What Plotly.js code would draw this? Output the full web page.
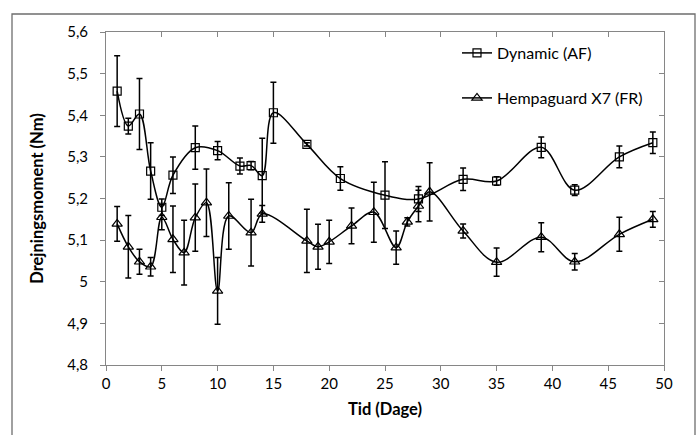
<!DOCTYPE html>
<html>
<head>
<meta charset="utf-8">
<script src="https://cdn.plot.ly/plotly-3.0.1.min.js"></script>
<style>
html,body{margin:0;padding:0;background:#fff;}
#chart{width:697px;height:435px;}
</style>
</head>
<body>
<div id="chart"></div>
<script>
// Dynamic (AF)
const dynX = [1,2,3,4,5,6,8,10,12,13,14,15,18,21,25,28,32,35,39,42,46,49];
const dynY = [5.458,5.374,5.403,5.266,5.179,5.256,5.322,5.315,5.278,5.279,5.255,5.406,5.330,5.248,5.208,5.199,5.246,5.242,5.323,5.220,5.300,5.334];
const dynErr = [0.085,0.019,0.085,0.068,0.02,0.044,0.052,0.022,0.019,0.01,0.09,0.073,0.004,0.028,0.08,0.03,0.027,0.01,0.025,0.013,0.026,0.026];

// Hempaguard X7 (FR)
const hemX = [1,2,3,4,5,6,7,8,9,10,11,13,14,18,19,20,22,24,26,27,28,29,32,35,39,42,46,49];
const hemY = [5.139,5.084,5.048,5.036,5.155,5.102,5.070,5.154,5.190,4.978,5.158,5.118,5.163,5.098,5.084,5.096,5.134,5.167,5.082,5.144,5.182,5.216,5.122,5.047,5.107,5.048,5.114,5.150];
const hemErr = [0.042,0.075,0.03,0.022,0.03,0.08,0.078,0.081,0.081,0.08,0.08,0.08,0.02,0.076,0.054,0.052,0.043,0.072,0.04,0.01,0.038,0.07,0.017,0.034,0.035,0.02,0.041,0.019];

const seriesNames = ['Dynamic (AF)', 'Hempaguard X7 (FR)'];
const xTitle = 'Tid (Dage)';
const yTitle = 'Drejningsmoment (Nm)';

const FONT = 'Lato, "Open Sans", sans-serif';
const AX = '#868686';

function errBars(arr){
  return {type:'data', array:arr, visible:true, color:'#000', thickness:1.5, width:3};
}

const traces = [
  {
    x: dynX, y: dynY, name: seriesNames[0], type:'scatter', mode:'lines+markers',
    line:{color:'#000', width:1.5, shape:'spline', smoothing:1},
    marker:{symbol:'square-open', size:8, color:'#000', line:{width:1.2, color:'#000'}},
    error_y: errBars(dynErr), legend:'legend'
  },
  {
    x: hemX, y: hemY, name: seriesNames[1], type:'scatter', mode:'lines+markers',
    line:{color:'#000', width:1.5, shape:'spline', smoothing:1},
    marker:{symbol:'triangle-up-open', size:9, color:'#000', line:{width:1.2, color:'#000'}},
    error_y: errBars(hemErr), legend:'legend2'
  }
];

const L = 106, R = 664, T = 32, B = 365, W = 697, H = 435;
const pw = R - L, ph = B - T;

const layout = {
  width: W, height: H,
  margin: {l: L, r: W - R, t: T, b: H - B},
  paper_bgcolor: '#fff', plot_bgcolor: '#fff',
  separators: ', ',
  font: {family: FONT, size: 15, color: '#000'},
  showlegend: true,
  xaxis: {
    range: [0, 50], dtick: 5, tick0: 0,
    showgrid: false, zeroline: false,
    showline: true, linecolor: AX, linewidth: 1,
    ticks: 'outside', ticklen: 5, tickcolor: AX, tickwidth: 1,
    tickfont: {family: FONT, size: 15, color: '#000'},
    title: {text: xTitle, font: {family: FONT, size: 16.5, color: '#000', weight: 'bold'}, standoff: 12},
    automargin: false
  },
  xaxis2: {
    range: [0, 50], dtick: 5, tick0: 0, overlaying: 'x', side: 'top',
    showgrid: false, zeroline: false, showticklabels: false,
    showline: true, linecolor: AX, linewidth: 1,
    ticks: 'inside', ticklen: 5, tickcolor: AX, tickwidth: 1
  },
  yaxis: {
    range: [4.8, 5.6], dtick: 0.1, tick0: 4.8,
    showgrid: false, zeroline: false,
    showline: true, linecolor: AX, linewidth: 1,
    ticks: 'outside', ticklen: 5, tickcolor: AX, tickwidth: 1,
    ticklabelstandoff: 9,
    tickfont: {family: FONT, size: 15, color: '#000'},
    title: {text: yTitle, font: {family: FONT, size: 16.5, color: '#000', weight: 'bold'}, standoff: 19},
    automargin: false
  },
  yaxis2: {
    range: [4.8, 5.6], dtick: 0.1, tick0: 4.8, overlaying: 'y', side: 'right',
    showgrid: false, zeroline: false, showticklabels: false,
    showline: true, linecolor: AX, linewidth: 1,
    ticks: 'inside', ticklen: 5, tickcolor: AX, tickwidth: 1
  },
  legend: {
    x: (457 - L) / pw, y: 1 - (36 - T) / ph, xanchor: 'left', yanchor: 'top',
    bgcolor: 'rgba(0,0,0,0)', borderwidth: 0,
    font: {family: FONT, size: 16, color: '#000'}
  },
  legend2: {
    x: (457 - L) / pw, y: 1 - (81 - T) / ph, xanchor: 'left', yanchor: 'top',
    bgcolor: 'rgba(0,0,0,0)', borderwidth: 0,
    font: {family: FONT, size: 16, color: '#000'}
  },
  shapes: [{
    type: 'rect', xref: 'paper', yref: 'paper',
    x0: (12 - L) / pw, x1: (695 - L) / pw,
    y0: (B - 440) / ph, y1: (B - 14) / ph,
    line: {color: '#6e6e6e', width: 1.3}, fillcolor: 'rgba(0,0,0,0)', layer: 'below'
  }]
};

// dummy trace to activate the mirrored top/right axes
traces.push({x:[null], y:[null], xaxis:'x2', yaxis:'y2', showlegend:false, hoverinfo:'skip', type:'scatter', mode:'lines'});

Plotly.newPlot('chart', traces, layout, {displayModeBar: false, staticPlot: true});
</script>
</body>
</html>
